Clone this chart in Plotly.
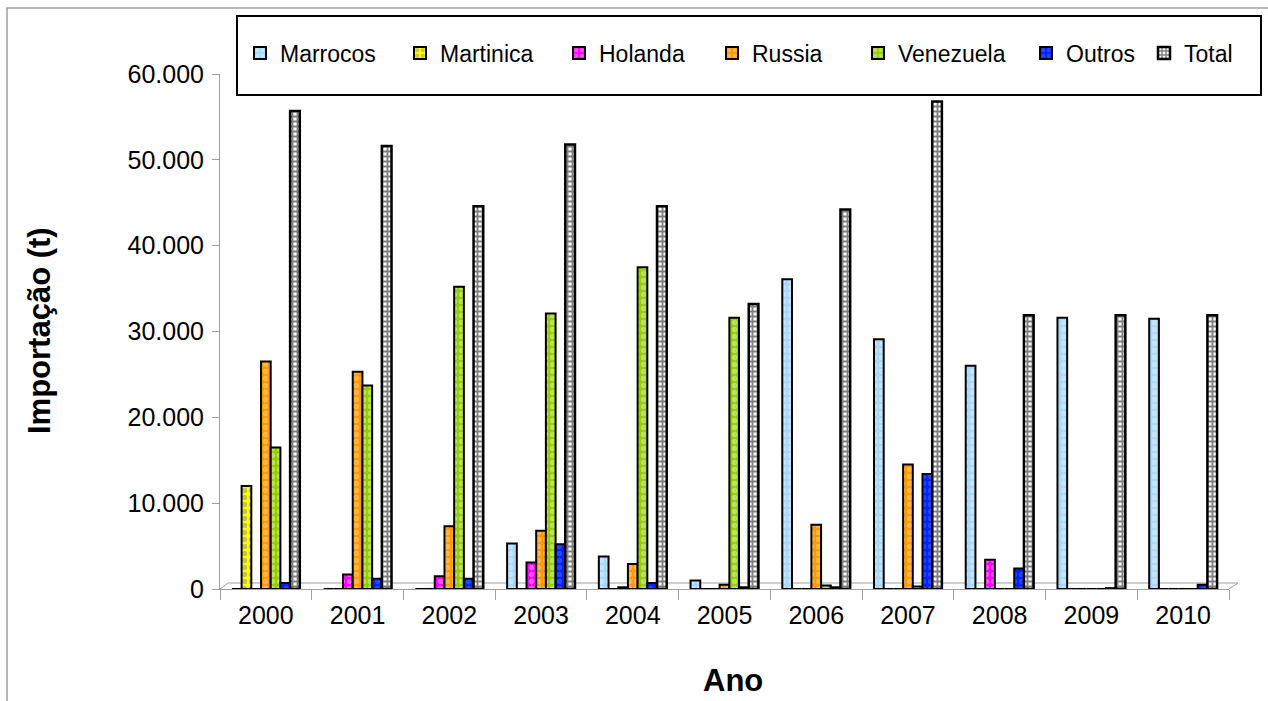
import plotly.graph_objects as go

# Importação anual por origem (t)
anos = ["2000", "2001", "2002", "2003", "2004", "2005", "2006", "2007", "2008", "2009", "2010"]
marrocos = [0, 0, 0, 5300, 3800, 1000, 36100, 29100, 26000, 31600, 31500]
martinica = [12000, 0, 0, 0, 0, 0, 0, 0, 0, 0, 0]
holanda = [0, 1700, 1500, 3100, 200, 0, 0, 0, 3400, 0, 0]
russia = [26500, 25300, 7300, 6800, 2900, 500, 7500, 14500, 0, 0, 0]
venezuela = [16500, 23700, 35200, 32100, 37500, 31600, 400, 300, 0, 0, 0]
outros = [700, 1200, 1200, 5200, 700, 200, 200, 13400, 2400, 100, 500]
total = [55700, 51600, 44600, 51800, 44600, 33200, 44200, 56800, 31900, 31900, 31900]

y_ticks = [0, 10000, 20000, 30000, 40000, 50000, 60000]

# name, values, base colour, pattern colour, pattern shape, size, solidity, outline width
series = [
    ("Marrocos", marrocos, "#A6D8FA", "#E2F3FF", ".", 7, 0.45, 2),
    ("Martinica", martinica, "#FFFF00", "#8C8C8C", ".", 7, 0.45, 2),
    ("Holanda", holanda, "#FF00FF", "#FFA8FF", ".", 7, 0.45, 2),
    ("Russia", russia, "#FF9900", "#FFD199", ".", 7, 0.45, 2),
    ("Venezuela", venezuela, "#99CC00", "#D9F5C0", ".", 7, 0.45, 2),
    ("Outros", outros, "#0022FF", "#4D66FF", ".", 7, 0.45, 2),
    ("Total", total, "#FFFFFF", "#000000", "+", 5, 0.6, 2.5),
]

FONT = "Liberation Sans, Arial, sans-serif"

# page geometry (pixels)
W, H = 1268, 701
L, R, T, B = 220, 1229, 74, 589
pw, ph = R - L, B - T


def px_x(x):
    return (x - L) / pw


def px_y(y):
    return (B - y) / ph


# where each legend label starts
legend_text_x = [280, 440, 599, 752, 898, 1066, 1184]

fig = go.Figure()
for i, (name, vals, bg, fg, shape, size, sol, lw) in enumerate(series):
    fig.add_trace(go.Bar(
        x=anos, y=vals, name=name, legend=f"legend{i + 2}",
        marker=dict(
            color=bg,
            line=dict(color="#000000", width=lw),
            pattern=dict(shape=shape, fgcolor=fg, bgcolor=bg,
                         size=size, solidity=sol, fillmode="overlay"),
        ),
    ))

legend_layouts = {}
for i, tx in enumerate(legend_text_x):
    legend_layouts[f"legend{i + 2}"] = dict(
        x=px_x(tx - 40), y=px_y(53), xanchor="left", yanchor="middle",
        orientation="h", bgcolor="rgba(0,0,0,0)", borderwidth=0,
        font=dict(family=FONT, size=23, color="#000000"),
        itemclick=False, itemdoubleclick=False,
    )

fig.update_layout(
    width=W, height=H,
    margin=dict(l=L, r=W - R, t=T, b=H - B),
    paper_bgcolor="#FFFFFF", plot_bgcolor="#FFFFFF",
    separators=",.",
    barmode="group", bargap=0.26, bargroupgap=0,
    font=dict(family=FONT, size=25, color="#000000"),
    **legend_layouts,
)

fig.update_xaxes(
    type="category", range=[-0.5, 10.5],
    showline=True, linecolor="#A0A0A0", linewidth=1,
    ticks="outside", tickson="boundaries", ticklen=10, tickcolor="#A0A0A0",
    showgrid=False, zeroline=False,
    tickfont=dict(size=25), ticklabelstandoff=4,
)
fig.update_yaxes(
    range=[0, 60000], tickvals=y_ticks, tickformat=",.0f",
    showline=True, linecolor="#A0A0A0", linewidth=1,
    ticks="outside", ticklen=7, tickcolor="#A0A0A0",
    showgrid=False, zeroline=False,
    tickfont=dict(size=25), ticklabelstandoff=3,
)

# 3D floor edges
floor = dict(color="#A0A0A0", width=1)
fig.add_shape(type="line", xref="paper", yref="paper",
              x0=px_x(228), y0=px_y(583), x1=px_x(1238), y1=px_y(583), line=floor, layer="below")
fig.add_shape(type="line", xref="paper", yref="paper",
              x0=px_x(220), y0=px_y(589), x1=px_x(228), y1=px_y(583), line=floor, layer="below")
fig.add_shape(type="line", xref="paper", yref="paper",
              x0=px_x(1229), y0=px_y(589), x1=px_x(1238), y1=px_y(583), line=floor, layer="below")

# outer chart frame (open to the right and bottom of the page)
fig.add_shape(type="rect", xref="paper", yref="paper",
              x0=px_x(7), x1=px_x(W + 10), y0=px_y(H + 10), y1=px_y(8),
              line=dict(color="#A0A0A0", width=1.5), fillcolor="rgba(0,0,0,0)", layer="below")
# legend box
fig.add_shape(type="rect", xref="paper", yref="paper",
              x0=px_x(237), x1=px_x(1261), y0=px_y(95), y1=px_y(16),
              line=dict(color="#000000", width=2), fillcolor="rgba(0,0,0,0)")

# axis titles
fig.add_annotation(text="<b>Importação (t)</b>", xref="paper", yref="paper",
                   x=px_x(39), y=px_y(331), textangle=-90, showarrow=False,
                   font=dict(size=31), xanchor="center", yanchor="middle")
fig.add_annotation(text="<b>Ano</b>", xref="paper", yref="paper",
                   x=px_x(733), y=px_y(680), showarrow=False,
                   font=dict(size=31), xanchor="center", yanchor="middle")

fig.write_html("out.html")
